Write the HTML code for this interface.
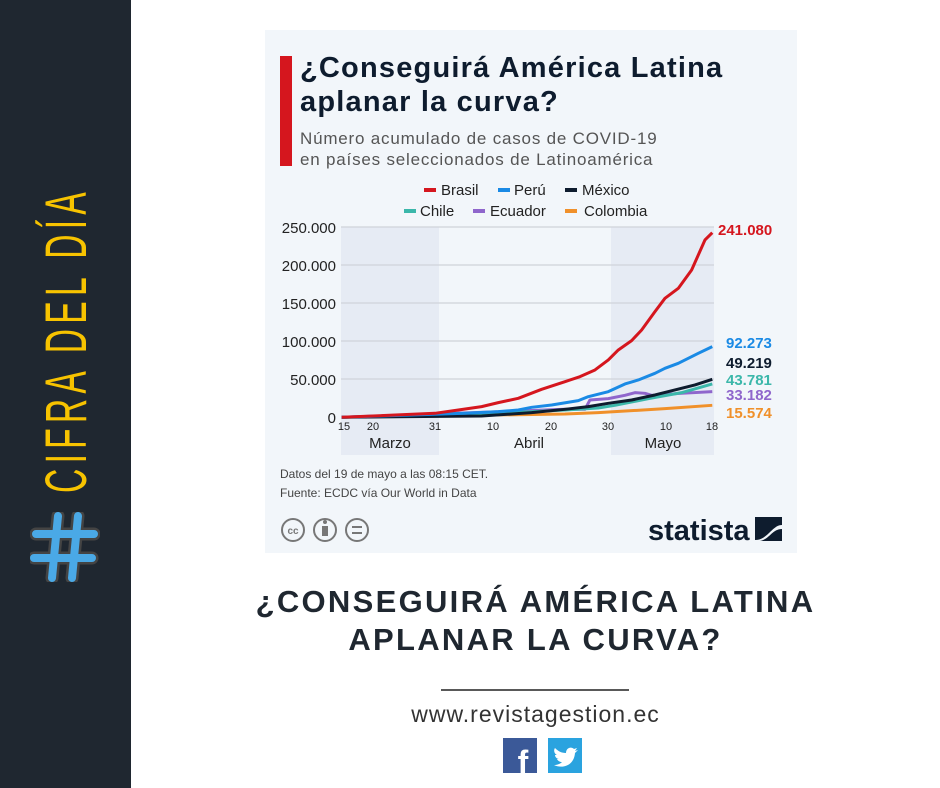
<!DOCTYPE html>
<html><head><meta charset="utf-8"><style>
body{margin:0;width:940px;height:788px;background:#fff;position:relative;overflow:hidden;font-family:"Liberation Sans",sans-serif}
.side{position:absolute;left:0;top:0;width:131px;height:788px;background:#1f2730}
.vt{position:absolute;left:67px;top:340px;transform:translate(-50%,-50%) rotate(-90deg) scaleX(0.58);white-space:nowrap;color:#f7c300;font-size:58px;letter-spacing:9px;line-height:58px;transform-origin:center}
.hash{position:absolute;left:30px;top:512px;width:70px;height:70px}
.card{position:absolute;left:265px;top:30px;width:532px;height:523px;background:#f2f6fa}
.bar{position:absolute;left:280px;top:56px;width:12px;height:110px;background:#d5161e}
.t{position:absolute;left:300px;top:51px;font-size:29px;letter-spacing:1.2px;font-weight:bold;color:#0e1c2e;line-height:34px}
.s{position:absolute;left:300px;top:128px;font-size:17px;letter-spacing:0.8px;color:#555;line-height:21px}
.h{position:absolute;left:0;width:940px;padding-left:131px;box-sizing:border-box;text-align:center;font-weight:bold;font-size:31px;letter-spacing:2.3px;color:#1f2730}
</style></head><body>
<div class="side"><div class="vt">CIFRA DEL DÍA</div>
<svg class="hash" viewBox="0 0 70 70"><g fill="none" stroke-linecap="round"><g stroke="#444" stroke-width="13"><path d="M28 4 L22 66 M48 4 L42 66 M6 22 L64 22 M4 46 L62 46"/></g><g stroke="#4aa9e6" stroke-width="8"><path d="M28 4 L22 66 M48 4 L42 66 M6 22 L64 22 M4 46 L62 46"/></g></g></svg></div>
<div class="card"></div><div class="bar"></div>
<div class="t">¿Conseguirá América Latina<br>aplanar la curva?</div>
<div class="s">Número acumulado de casos de COVID-19<br>en países seleccionados de Latinoamérica</div>
<svg style="position:absolute;left:0;top:0" width="940" height="788">
<g font-size="15" fill="#222">
<rect x="424" y="188" width="12" height="4" fill="#d5161e"/><text x="441" y="195">Brasil</text>
<rect x="498" y="188" width="12" height="4" fill="#1a8ae5"/><text x="514" y="195">Perú</text>
<rect x="565" y="188" width="12" height="4" fill="#0e1c2e"/><text x="582" y="195">México</text>
<rect x="404" y="209" width="12" height="4" fill="#3bb7aa"/><text x="420" y="216">Chile</text>
<rect x="473" y="209" width="12" height="4" fill="#8f66cc"/><text x="490" y="216">Ecuador</text>
<rect x="565" y="209" width="12" height="4" fill="#f0902a"/><text x="584" y="216">Colombia</text>
</g>
<rect x="341" y="227" width="98" height="228" fill="#e6ebf4"/>
<rect x="611" y="227" width="103" height="228" fill="#e6ebf4"/>
<g stroke="#d4d8de" stroke-width="1.5"><path d="M341 227H714M341 265H714M341 303H714M341 341H714M341 379H714"/></g>
<g font-size="15" fill="#222" text-anchor="end"><text x="336" y="233">250.000</text><text x="336" y="271">200.000</text><text x="336" y="309">150.000</text><text x="336" y="347">100.000</text><text x="336" y="385">50.000</text><text x="336" y="423">0</text></g>
<g font-size="11" fill="#222" text-anchor="middle"><text x="344" y="430">15</text><text x="373" y="430">20</text><text x="435" y="430">31</text><text x="493" y="430">10</text><text x="551" y="430">20</text><text x="608" y="430">30</text><text x="666" y="430">10</text><text x="712" y="430">18</text></g>
<g font-size="15" fill="#222" text-anchor="middle"><text x="390" y="448">Marzo</text><text x="529" y="448">Abril</text><text x="663" y="448">Mayo</text></g>
<g transform="translate(265,180) scale(0.3333)" fill="none" stroke-width="9" stroke-linejoin="round">
<polyline stroke="#f0902a" points="230,712 900,702 1000,698 1100,692 1200,686 1342,676"/>
<polyline stroke="#8f66cc" points="230,712 900,688 960,688 975,660 1030,656 1080,646 1110,638 1140,640 1160,646 1250,640 1342,635"/>
<polyline stroke="#3bb7aa" points="230,712 700,700 900,690 1000,684 1050,676 1150,656 1250,638 1342,612"/>
<polyline stroke="#0e1c2e" points="230,712 650,708 800,698 900,688 970,680 1030,670 1100,660 1170,645 1230,630 1290,615 1342,598"/>
<polyline stroke="#1a8ae5" points="230,712 600,700 700,695 760,690 800,682 860,675 940,662 970,650 1030,635 1080,612 1120,600 1170,580 1200,565 1240,550 1300,520 1342,500"/>
<polyline stroke="#d5161e" points="230,712 510,700 580,690 650,680 700,668 760,655 830,628 900,605 945,590 990,570 1030,540 1060,510 1100,482 1130,450 1170,395 1200,355 1240,325 1280,270 1320,180 1342,158"/>
</g>
<g font-size="15" font-weight="bold"><text x="718" y="235" fill="#d5161e">241.080</text><text x="726" y="348" fill="#1a8ae5">92.273</text><text x="726" y="368" fill="#0e1c2e">49.219</text><text x="726" y="385" fill="#3bb7aa">43.781</text><text x="726" y="400" fill="#8f66cc">33.182</text><text x="726" y="418" fill="#f0902a">15.574</text></g>
<g font-size="12" fill="#444"><text x="280" y="478">Datos del 19 de mayo a las 08:15 CET.</text><text x="280" y="497">Fuente: ECDC vía Our World in Data</text></g>
<g fill="none" stroke="#777" stroke-width="2"><circle cx="293" cy="530" r="11"/><circle cx="325" cy="530" r="11"/><circle cx="357" cy="530" r="11"/></g>
<text x="293" y="534" font-size="10" font-weight="bold" fill="#777" text-anchor="middle">cc</text>
<rect x="322" y="526" width="6" height="10" fill="#777"/><circle cx="325" cy="522" r="2" fill="#777"/>
<path d="M352 527h10M352 533h10" stroke="#777" stroke-width="2"/>
<text x="648" y="540" font-size="29" font-weight="bold" fill="#0e1c2e">statista</text>
<path d="M755 517h27v8c-10 0-14 15-27 15z" fill="#0e1c2e"/><path d="M782 529v12h-22c10-2 12-12 22-12z" fill="#0e1c2e"/>
<line x1="441" y1="690" x2="629" y2="690" stroke="#222" stroke-width="1.5"/>
<rect x="503" y="738" width="34" height="35" fill="#3b5998"/>
<text x="523" y="773" font-size="32" font-weight="bold" fill="#fff" text-anchor="middle">f</text>
<rect x="548" y="738" width="34" height="35" fill="#2aa3df"/>
<path d="M554 765c8 4 20 1 21-12l3-3-3 1 2-3-3 1c-3-3-8-1-8 4-5 0-8-2-11-5-2 3 0 6 2 7h-2c0 2 2 4 4 4h-2c1 2 3 3 5 3-2 2-5 3-8 3z" fill="#fff"/>
</svg>
<div class="h" style="top:584px">¿CONSEGUIRÁ AMÉRICA LATINA</div>
<div class="h" style="top:622px">APLANAR LA CURVA?</div>
<div style="position:absolute;left:131px;width:809px;top:701px;text-align:center;font-size:23px;color:#333;letter-spacing:1px">www.revistagestion.ec</div>
</body></html>
